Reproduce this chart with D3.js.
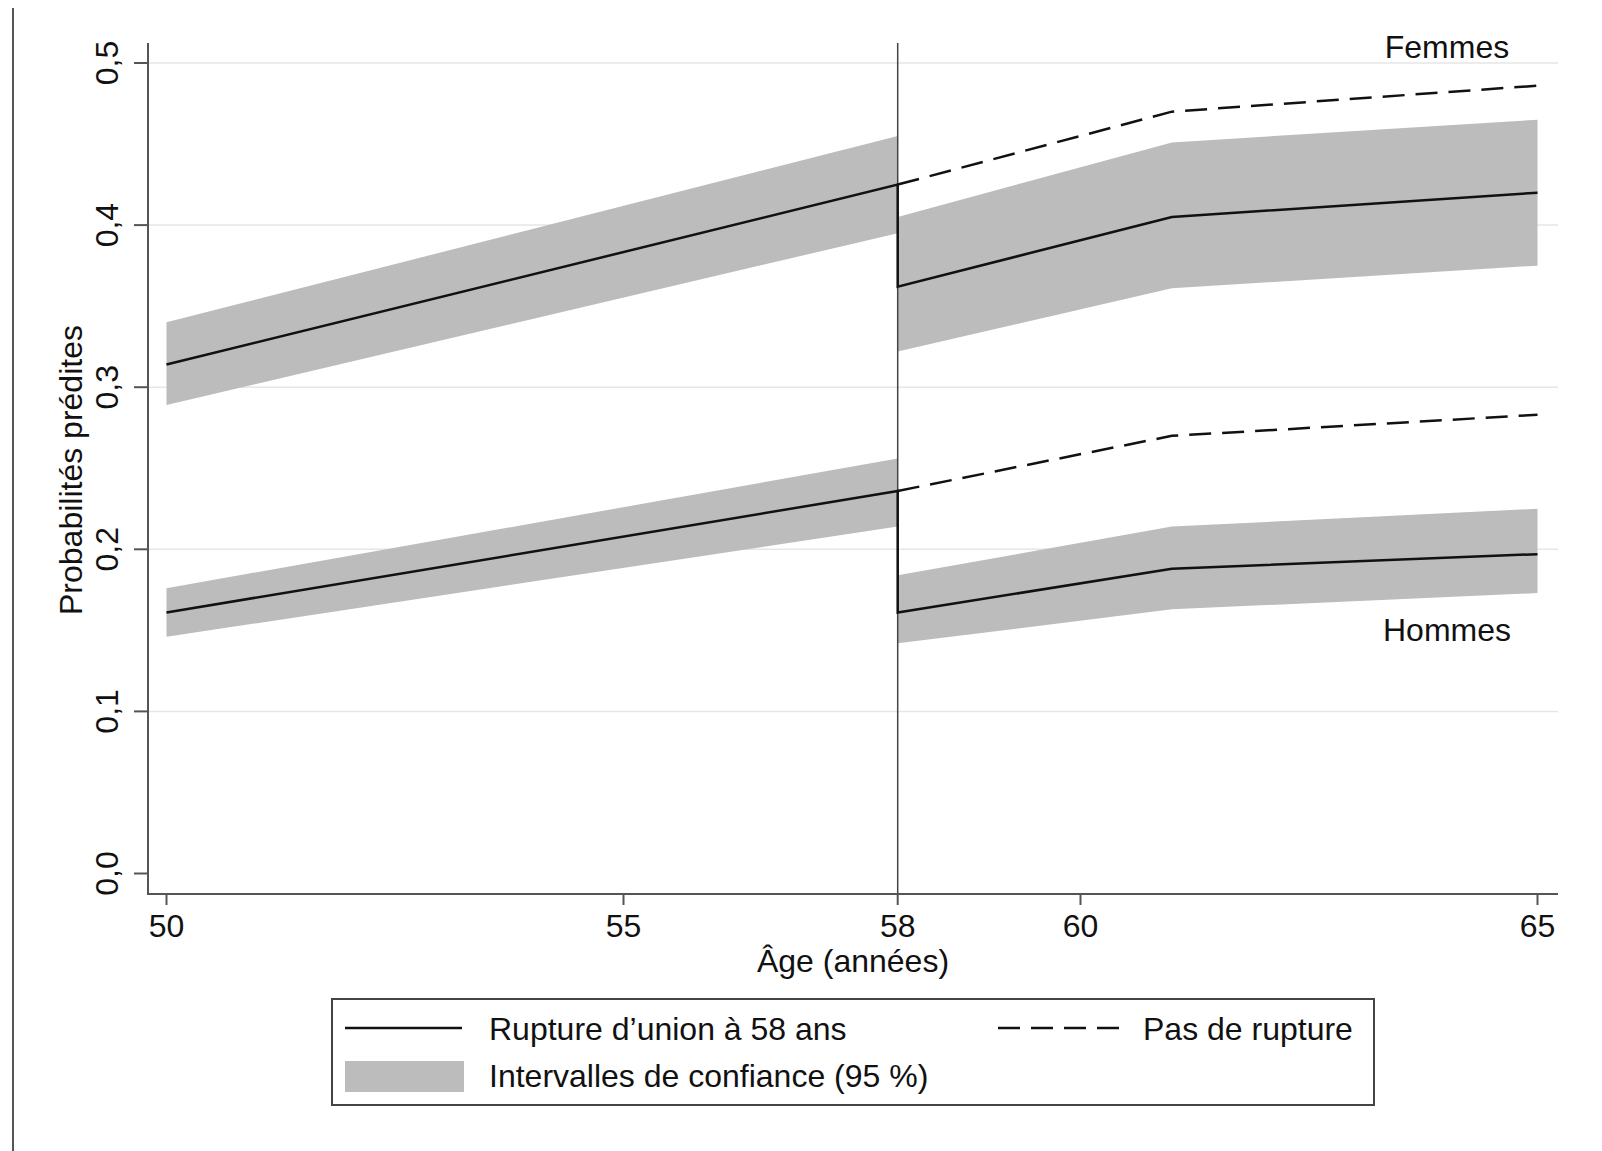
<!DOCTYPE html>
<html><head><meta charset="utf-8">
<script src="https://cdn.jsdelivr.net/npm/d3@7"></script>
<style>body{margin:0;background:#fff}svg{display:block}text{font-family:"Liberation Sans",Arial,sans-serif;fill:#111}</style>
</head><body><svg id="c" width="1602" height="1151"></svg>
<script>
// Data
const yTicks = [0, 0.1, 0.2, 0.3, 0.4, 0.5];
const yTickLabels = ["0,0", "0,1", "0,2", "0,3", "0,4", "0,5"];
const xTicks = [50, 55, 58, 60, 65];
// Femmes
const femBeforeAge = [50, 58];
const femBeforeFit = [0.314, 0.425];
const femBeforeLo = [0.289, 0.395];
const femBeforeHi = [0.340, 0.455];
const femAfterAge = [58, 61, 65];
const femAfterFit = [0.362, 0.405, 0.420];
const femAfterLo = [0.322, 0.361, 0.375];
const femAfterHi = [0.405, 0.451, 0.465];
const femNoBreak = [0.425, 0.470, 0.486];
// Hommes
const homBeforeAge = [50, 58];
const homBeforeFit = [0.161, 0.236];
const homBeforeLo = [0.146, 0.214];
const homBeforeHi = [0.176, 0.256];
const homAfterAge = [58, 61, 65];
const homAfterFit = [0.161, 0.188, 0.197];
const homAfterLo = [0.142, 0.163, 0.173];
const homAfterHi = [0.184, 0.214, 0.225];
const homNoBreak = [0.236, 0.270, 0.283];

const svg = d3.select("#c");
const x = d3.scaleLinear().domain([50, 65]).range([166.5, 1537.5]);
const y = d3.scaleLinear().domain([0, 0.5]).range([873.5, 63]);
const plotLeft = 148, plotRight = 1558, plotTop = 43, plotBottom = 894;
const bandColor = "#bcbcbc";
const fs = 32;

// outer frame line at left
svg.append("line").attr("x1", 13).attr("x2", 13).attr("y1", 8).attr("y2", 1151)
  .attr("stroke", "#555").attr("stroke-width", 2);

// grid
svg.append("g").selectAll("line").data(yTicks.filter(d => d > 0)).join("line")
  .attr("x1", plotLeft + 1).attr("x2", plotRight).attr("y1", d => y(d)).attr("y2", d => y(d))
  .attr("stroke", "#e6e6e6").attr("stroke-width", 1.5);

function zip(ages, a, b) { return ages.map((g, i) => ({ age: g, lo: a[i], hi: b[i] })); }
const area = d3.area().x(d => x(d.age)).y0(d => y(d.lo)).y1(d => y(d.hi));
const line = d3.line().x(d => x(d[0])).y(d => y(d[1]));

const bands = [
  zip(femBeforeAge, femBeforeLo, femBeforeHi), zip(femAfterAge, femAfterLo, femAfterHi),
  zip(homBeforeAge, homBeforeLo, homBeforeHi), zip(homAfterAge, homAfterLo, homAfterHi)
];
svg.append("g").selectAll("path").data(bands).join("path")
  .attr("d", area).attr("fill", bandColor);

// vertical line at 58
svg.append("line").attr("x1", x(58)).attr("x2", x(58)).attr("y1", plotTop).attr("y2", plotBottom)
  .attr("stroke", "#444").attr("stroke-width", 1.5);

// dashed no-break
const dashed = [femAfterAge.map((g, i) => [g, femNoBreak[i]]), homAfterAge.map((g, i) => [g, homNoBreak[i]])];
svg.append("g").selectAll("path").data(dashed).join("path")
  .attr("d", line).attr("fill", "none").attr("stroke", "#111").attr("stroke-width", 2.5)
  .attr("stroke-dasharray", "22,11");

// solid: before, drop at 58, after
function solidPath(bAge, bFit, aAge, aFit) {
  return bAge.map((g, i) => [g, bFit[i]]).concat(aAge.map((g, i) => [g, aFit[i]]));
}
const solids = [solidPath(femBeforeAge, femBeforeFit, femAfterAge, femAfterFit),
                solidPath(homBeforeAge, homBeforeFit, homAfterAge, homAfterFit)];
svg.append("g").selectAll("path").data(solids).join("path")
  .attr("d", line).attr("fill", "none").attr("stroke", "#111").attr("stroke-width", 2.5);

// axes
const axisColor = "#555";
svg.append("line").attr("x1", plotLeft).attr("x2", plotLeft).attr("y1", plotTop).attr("y2", plotBottom)
  .attr("stroke", axisColor).attr("stroke-width", 2);
svg.append("line").attr("x1", plotLeft - 1).attr("x2", plotRight).attr("y1", plotBottom).attr("y2", plotBottom)
  .attr("stroke", axisColor).attr("stroke-width", 2);

const gy = svg.append("g");
gy.selectAll("line").data(yTicks).join("line")
  .attr("x1", plotLeft - 14).attr("x2", plotLeft).attr("y1", d => y(d)).attr("y2", d => y(d))
  .attr("stroke", axisColor).attr("stroke-width", 2);
gy.selectAll("text").data(yTicks).join("text")
  .attr("transform", d => `translate(118,${y(d)}) rotate(-90)`)
  .attr("text-anchor", "middle").attr("font-size", fs).text((d, i) => yTickLabels[i]);

const gx = svg.append("g");
gx.selectAll("line").data(xTicks).join("line")
  .attr("x1", d => x(d)).attr("x2", d => x(d)).attr("y1", plotBottom).attr("y2", plotBottom + 11)
  .attr("stroke", axisColor).attr("stroke-width", 2);
gx.selectAll("text").data(xTicks).join("text")
  .attr("x", d => x(d)).attr("y", 937).attr("text-anchor", "middle").attr("font-size", fs).text(d => d);

svg.append("text").attr("x", 853).attr("y", 972).attr("text-anchor", "middle").attr("font-size", fs)
  .text("Âge (années)");
svg.append("text").attr("transform", "translate(82,470) rotate(-90)").attr("text-anchor", "middle")
  .attr("font-size", fs).text("Probabilités prédites");

// annotations
svg.append("text").attr("x", 1447).attr("y", 58).attr("text-anchor", "middle").attr("font-size", fs).text("Femmes");
svg.append("text").attr("x", 1447).attr("y", 641).attr("text-anchor", "middle").attr("font-size", fs).text("Hommes");

// legend
const lg = svg.append("g");
lg.append("rect").attr("x", 332).attr("y", 999).attr("width", 1042).attr("height", 106)
  .attr("fill", "#fff").attr("stroke", "#444").attr("stroke-width", 2);
lg.append("line").attr("x1", 345).attr("x2", 462).attr("y1", 1028).attr("y2", 1028)
  .attr("stroke", "#111").attr("stroke-width", 2.5);
lg.append("text").attr("x", 489).attr("y", 1040).attr("font-size", fs).text("Rupture d’union à 58 ans");
lg.append("line").attr("x1", 998).attr("x2", 1119).attr("y1", 1028).attr("y2", 1028)
  .attr("stroke", "#111").attr("stroke-width", 2.5).attr("stroke-dasharray", "22,11");
lg.append("text").attr("x", 1143).attr("y", 1040).attr("font-size", fs).text("Pas de rupture");
lg.append("rect").attr("x", 345).attr("y", 1061).attr("width", 119).attr("height", 31).attr("fill", bandColor);
lg.append("text").attr("x", 489).attr("y", 1087).attr("font-size", fs).text("Intervalles de confiance (95 %)");
</script></body></html>
